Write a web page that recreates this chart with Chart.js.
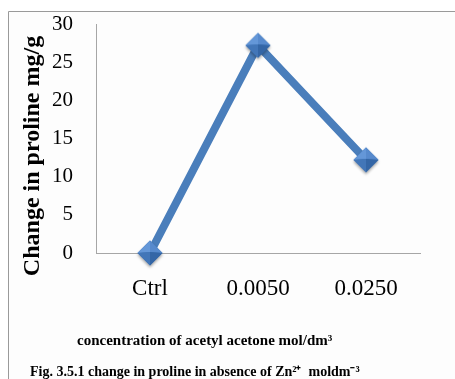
<!DOCTYPE html>
<html>
<head>
<meta charset="utf-8">
<script src="https://cdn.jsdelivr.net/npm/chart.js@4/dist/chart.umd.min.js"></script>
<style>
  html, body { margin: 0; padding: 0; background: #ffffff; }
  #wrap { width: 455px; height: 379px; position: relative; }
</style>
</head>
<body>
<div id="wrap"><canvas id="chart" width="455" height="379"></canvas></div>
<script>
// Proline change per acetyl acetone concentration
const categories = ['Ctrl', '0.0050', '0.0250'];
const prolineChange = [0, 27.2, 12.2];
const yTicks = [0, 5, 10, 15, 20, 25, 30];

const yTitle = 'Change in proline mg/g';
const xTitle = 'concentration of acetyl acetone mol/dm\u00B3';
const caption = 'Fig. 3.5.1 change in proline in absence of Zn\u00B2\u207A  moldm\u207B\u00B3';

const SERIF = '"Liberation Serif", "Times New Roman", serif';

// Bevelled diamond marker
function makeDiamond() {
  const c = document.createElement('canvas');
  c.width = 34; c.height = 34;
  const g = c.getContext('2d');
  const cx = 17, cy = 17, r = 12.5;
  // soft drop shadow
  g.save();
  g.shadowColor = 'rgba(0,0,0,0.35)';
  g.shadowBlur = 3;
  g.shadowOffsetY = 2;
  g.beginPath();
  g.moveTo(cx, cy - r); g.lineTo(cx + r, cy); g.lineTo(cx, cy + r); g.lineTo(cx - r, cy);
  g.closePath();
  g.fillStyle = '#3e72b4';
  g.fill();
  g.restore();
  const mx = cx, my = cy - 1;
  const facets = [
    [[cx, cy - r], [cx - r, cy], '#6497d8'],
    [[cx, cy - r], [cx + r, cy], '#578acd'],
    [[cx - r, cy], [cx, cy + r], '#4276b8'],
    [[cx + r, cy], [cx, cy + r], '#3466a6']
  ];
  facets.forEach(f => {
    g.beginPath();
    g.moveTo(f[0][0], f[0][1]); g.lineTo(f[1][0], f[1][1]); g.lineTo(mx, my);
    g.closePath();
    g.fillStyle = f[2];
    g.fill();
  });
  return c;
}

// Frame, background and free-standing labels
const decor = {
  id: 'decor',
  beforeDraw(chart) {
    const ctx = chart.ctx;
    ctx.save();
    ctx.fillStyle = '#ffffff';
    ctx.fillRect(0, 0, chart.width, chart.height);
    ctx.fillStyle = '#fdfdfd';
    ctx.fillRect(9, 12, chart.width - 9, chart.height - 12);
    ctx.strokeStyle = '#9a9a9a';
    ctx.lineWidth = 1;
    ctx.beginPath();
    ctx.moveTo(8.5, chart.height); ctx.lineTo(8.5, 11.5); ctx.lineTo(chart.width, 11.5);
    ctx.stroke();
    ctx.restore();
  },
  afterDraw(chart) {
    const ctx = chart.ctx;
    ctx.save();
    ctx.fillStyle = '#000000';
    // y axis title
    ctx.save();
    ctx.translate(33, 156);
    ctx.rotate(-Math.PI / 2);
    ctx.font = 'bold 24px ' + SERIF;
    ctx.textAlign = 'center';
    ctx.textBaseline = 'middle';
    ctx.fillText(yTitle, 0, 0);
    ctx.restore();
    // x axis title
    ctx.font = 'bold 15px ' + SERIF;
    ctx.textAlign = 'left';
    ctx.textBaseline = 'alphabetic';
    ctx.fillText(xTitle, 77, 345);
    // caption
    ctx.font = 'bold 14px ' + SERIF;
    ctx.fillText(caption, 30, 376);
    ctx.restore();
  }
};

const diamond = makeDiamond();

const chart = new Chart(document.getElementById('chart'), {
  type: 'line',
  data: {
    labels: categories,
    datasets: [{
      data: prolineChange,
      borderColor: '#4a7ebb',
      borderWidth: 8,
      tension: 0,
      fill: false,
      clip: false,
      pointStyle: diamond,
      pointRadius: 13,
      pointHoverRadius: 13
    }]
  },
  options: {
    responsive: false,
    animation: false,
    events: [],
    layout: { padding: { left: 8, top: 24, right: 35, bottom: 0 } },
    plugins: {
      legend: { display: false },
      tooltip: { enabled: false }
    },
    scales: {
      x: {
        type: 'category',
        offset: true,
        grid: { display: false, drawTicks: false },
        border: { display: true, color: '#a6a6a6', width: 1 },
        ticks: {
          color: '#000000',
          font: { family: SERIF, size: 23 },
          padding: 22,
          maxRotation: 0
        },
        afterFit(scale) { scale.height = 126; }
      },
      y: {
        min: 0,
        max: 30,
        afterBuildTicks(scale) { scale.ticks = yTicks.map(v => ({ value: v })); },
        grid: { display: false, drawTicks: false },
        border: { display: true, color: '#a6a6a6', width: 1 },
        ticks: {
          color: '#000000',
          font: { family: SERIF, size: 21 },
          padding: 23
        },
        afterFit(scale) {
          scale.width = 88;
          // keep the plot box pinned: no extra room for the top label
          scale.paddingTop = 0;
          scale.paddingBottom = 0;
        }
      }
    }
  },
  plugins: [decor]
});
</script>
</body>
</html>
